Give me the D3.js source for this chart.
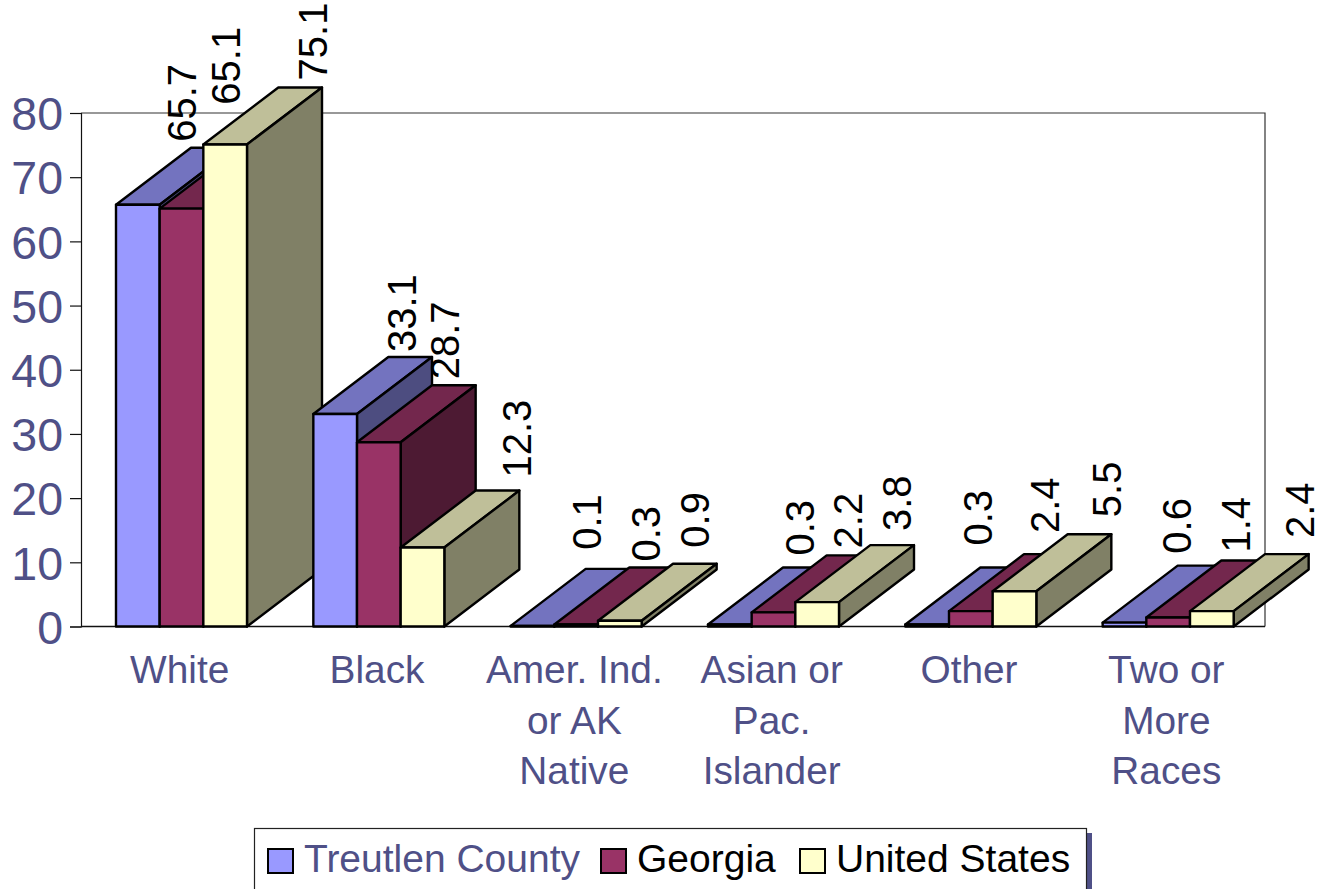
<!DOCTYPE html>
<html><head><meta charset="utf-8">
<script src="https://cdnjs.cloudflare.com/ajax/libs/d3/7.8.5/d3.min.js"></script>
<style>html,body{margin:0;padding:0;background:#fff;overflow:hidden}svg{display:block}text{font-family:"Liberation Sans",Arial,sans-serif}</style>
</head><body><svg id="c" width="1319" height="889"></svg>
<script>
const categories = [["White"],["Black"],["Amer. Ind.","or AK","Native"],["Asian or","Pac.","Islander"],["Other"],["Two or","More","Races"]];
const seriesNames = ["Treutlen County","Georgia","United States"];
const treutlen = [65.7,33.1,0.1,0.3,0.3,0.6];
const georgia  = [65.1,28.7,0.3,2.2,2.4,1.4];
const usa      = [75.1,12.3,0.9,3.8,5.5,2.4];
const yTicks = [0,10,20,30,40,50,60,70,80];

(function(){
// Layout only: nudges of each data label from the back top of its bar, [dx,dy] per category
const nudges = [
  [[-31,-6],[-9,-5],[-21,-19],[-5,-12],[-25,-22],[-23,-12]],
  [[-31,-47],[-9,-6],[-6,-6],[-1,-7],[-1,-21],[-8,-8]],
  [[12,-7],[19,-13],[0,-16],[4,-14],[17,-17],[13,-16]]
];
const seriesValues = [treutlen, georgia, usa];
const faces = [
  {front:"#9999FF", top:"#7373BF", side:"#4D4D80"},
  {front:"#993366", top:"#73274D", side:"#4D1A33"},
  {front:"#FFFFCC", top:"#BFBF99", side:"#808066"}
];
const axisColor = "#4F5087";
const depthX = 75, depthY = 57;
const plotL = 81, plotR = 1265, plotT = 113, plotB = 626.5;

const svg = d3.select("#c");
const keys = categories.map((c,i)=>i);
const x0 = d3.scaleBand().domain(keys).range([plotL,plotR]);
const x1 = d3.scaleBand().domain([0,1,2]).range([35,166]);
const y = d3.scaleLinear().domain([0,80]).range([plotB,plotT]);

svg.append("path").attr("d",`M${plotL},${plotT}H${plotR}V${plotB}`).attr("fill","none").attr("stroke","#333").attr("stroke-width",1.2);

const ax = svg.append("g").attr("transform",`translate(${plotL},0)`)
  .call(d3.axisLeft(y).tickValues(yTicks).tickSize(11).tickPadding(7));
ax.select(".domain").attr("stroke","#111").attr("stroke-width",1.2);
ax.selectAll(".tick line").attr("stroke","#111").attr("stroke-width",1.2);
ax.selectAll("text").attr("fill",axisColor).attr("font-size",46.5).attr("dy","0.36em").attr("font-family",'"Liberation Sans",Arial,sans-serif');

svg.append("line").attr("x1",plotL).attr("x2",plotR).attr("y1",plotB).attr("y2",plotB).attr("stroke","#111").attr("stroke-width",1.4);

keys.forEach(k=>{
  seriesValues.forEach((vals,s)=>{
    const bx = x0(k)+x1(s), w = x1.bandwidth(), vy = y(vals[k]), f = faces[s];
    const g = svg.append("g").attr("stroke","#000").attr("stroke-width",2.4).attr("stroke-linejoin","round");
    g.append("polygon").attr("fill",f.top).attr("points",[[bx,vy],[bx+depthX,vy-depthY],[bx+w+depthX,vy-depthY],[bx+w,vy]].join(" "));
    g.append("polygon").attr("fill",f.side).attr("points",[[bx+w,vy],[bx+w+depthX,vy-depthY],[bx+w+depthX,plotB-depthY],[bx+w,plotB]].join(" "));
    g.append("rect").attr("fill",f.front).attr("x",bx).attr("y",vy).attr("width",w).attr("height",plotB-vy);
  });
});

seriesValues.forEach((vals,s)=>{
  vals.forEach((v,k)=>{
    const n = nudges[s][k];
    const lx = x0(k)+x1(s)+x1.bandwidth()/2+depthX+n[0];
    const ly = y(v)-depthY+n[1];
    svg.append("text").attr("transform",`translate(${lx},${ly}) rotate(-90)`)
      .attr("dy","0.36em").attr("font-size",40).attr("fill","#000").text(v.toFixed(1));
  });
});

categories.forEach((lines,k)=>{
  const cx = x0(k)+x0.bandwidth()/2;
  const t = svg.append("text").attr("text-anchor","middle").attr("font-size",38.8).attr("fill",axisColor);
  lines.forEach((l,i)=>t.append("tspan").attr("x",cx).attr("y",683+i*50.5).text(l));
});

// legend
svg.append("rect").attr("x",1087).attr("y",833).attr("width",5).attr("height",56).attr("fill",axisColor);
svg.append("rect").attr("x",254.5).attr("y",828.5).attr("width",832).attr("height",70).attr("fill","#fff").attr("stroke","#222").attr("stroke-width",1.2);
const legendX = d3.scaleOrdinal().domain(seriesNames).range([268,601,800]);
const legendColor = [axisColor,"#000","#000"];
seriesNames.forEach((name,i)=>{
  const lx = legendX(name);
  svg.append("rect").attr("x",lx).attr("y",849).attr("width",25).attr("height",24).attr("fill",faces[i].front).attr("stroke","#000").attr("stroke-width",2);
  svg.append("text").attr("x",lx+36).attr("y",872).attr("font-size",39).attr("fill",legendColor[i]).text(name);
});
})();
</script></body></html>
